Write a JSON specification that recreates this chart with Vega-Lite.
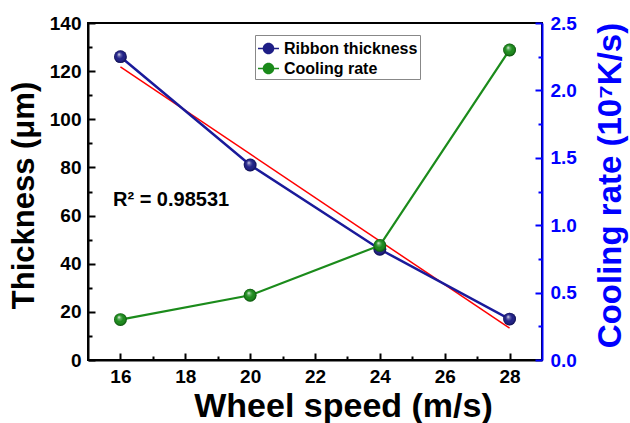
{
  "$schema": "https://vega.github.io/schema/vega-lite/v6.json",
  "width": 454,
  "height": 337,
  "autosize": "none",
  "padding": {"left": 88, "top": 23, "right": 88, "bottom": 63},
  "background": "white",
  "config": {
    "font": "Liberation Sans",
    "view": {"stroke": "black", "strokeWidth": 2},
    "axis": {"grid": false, "labelFont": "Liberation Sans", "titleFont": "Liberation Sans"}
  },
  "datasets": {
    "thick": [
      {"speed": 16, "value": 126, "series": "Ribbon thickness"},
      {"speed": 20, "value": 81, "series": "Ribbon thickness"},
      {"speed": 24, "value": 46, "series": "Ribbon thickness"},
      {"speed": 28, "value": 17, "series": "Ribbon thickness"}
    ],
    "cool": [
      {"speed": 16, "value": 0.3, "series": "Cooling rate"},
      {"speed": 20, "value": 0.48, "series": "Cooling rate"},
      {"speed": 24, "value": 0.85, "series": "Cooling rate"},
      {"speed": 28, "value": 2.3, "series": "Cooling rate"}
    ],
    "fit": [
      {"speed": 16, "value": 121.8},
      {"speed": 28, "value": 13.2}
    ],
    "note": [
      {"speed": 15.77, "value": 66.5, "label": "R² = 0.98531"}
    ]
  },
  "encoding": {
    "x": {
      "field": "speed", "type": "quantitative",
      "scale": {"domain": [15, 29], "nice": false, "zero": false},
      "axis": {
        "values": [16, 17, 18, 19, 20, 21, 22, 23, 24, 25, 26, 27, 28],
        "tickSize": -7,
        "tickDash": {"condition": {"test": "datum.value % 2 === 0", "value": [7, 0]}, "value": [4, 20]},
        "tickWidth": 2, "tickColor": "black",
        "domainColor": "black", "domainWidth": 2,
        "labelExpr": "datum.value % 2 === 0 ? datum.label : ''",
        "labelFontSize": 19, "labelFontWeight": "bold", "labelColor": "black", "labelPadding": 14,
        "title": "Wheel speed (m/s)", "titleFontSize": 34, "titleFontWeight": "bold", "titleColor": "black",
        "titleX": 255, "titleY": 56, "titleAlign": "center", "titleBaseline": "alphabetic"
      }
    }
  },
  "layer": [
    {
      "encoding": {
        "y": {
          "field": "value", "type": "quantitative",
          "scale": {"domain": [0, 140], "nice": false},
          "axis": {
            "values": [0, 10, 20, 30, 40, 50, 60, 70, 80, 90, 100, 110, 120, 130, 140],
            "tickSize": -7,
            "tickDash": {"condition": {"test": "datum.value % 20 === 0", "value": [7, 0]}, "value": [4, 20]},
            "tickWidth": 2, "tickColor": "black",
            "domainColor": "black", "domainWidth": 2,
            "labelExpr": "datum.value % 20 === 0 ? datum.label : ''",
            "labelFontSize": 19, "labelFontWeight": "bold", "labelColor": "black", "labelPadding": 14,
            "title": "Thickness (μm)", "titleFontSize": 31, "titleFontWeight": "bold", "titleColor": "black",
            "titleAngle": 270, "titleX": -55, "titleY": 172, "titleAlign": "center", "titleBaseline": "alphabetic"
          }
        }
      },
      "layer": [
        {"data": {"name": "fit"}, "mark": {"type": "line", "color": "#ff0000", "strokeWidth": 1.5}},
        {"data": {"name": "thick"}, "mark": {"type": "line", "color": "#1a1a9a", "strokeWidth": 2.5}},
        {
          "data": {"name": "thick"},
          "mark": {"type": "point", "filled": true, "size": 165, "opacity": 1},
          "encoding": {
            "color": {
              "field": "series", "type": "nominal",
              "scale": {"domain": ["Ribbon thickness", "Cooling rate"], "range": ["#1e1e86", "#1a8a1a"]},
              "legend": {
                "orient": "none", "legendX": 167, "legendY": 12, "title": null,
                "symbolType": "M-1,-0.08H-0.5V0.08H-1Z M0.5,-0.08H1V0.08H0.5Z M-0.55,0A0.55,0.55,0,1,1,0.55,0A0.55,0.55,0,1,1,-0.55,0Z",
                "symbolSize": 440, "symbolOpacity": 1,
                "labelFontSize": 16, "labelFontWeight": "bold", "labelColor": "black", "labelOffset": 4,
                "fillColor": "white", "strokeColor": "#888888", "padding": 2, "rowPadding": 0
              }
            }
          }
        },
        {
          "data": {"name": "thick"},
          "mark": {
            "type": "point", "filled": true, "size": 165, "opacity": 1,
            "fill": {
              "gradient": "radial", "x1": 0.38, "y1": 0.3, "r1": 0, "x2": 0.5, "y2": 0.5, "r2": 0.5,
              "stops": [
                {"offset": 0, "color": "rgba(255,255,255,0.95)"},
                {"offset": 0.25, "color": "rgba(255,255,255,0.3)"},
                {"offset": 0.55, "color": "rgba(255,255,255,0)"},
                {"offset": 0.85, "color": "rgba(0,0,0,0.15)"},
                {"offset": 1, "color": "rgba(0,0,0,0.45)"}
              ]
            }
          }
        },
        {
          "data": {"name": "note"},
          "mark": {"type": "text", "align": "left", "baseline": "middle", "fontSize": 20, "fontWeight": "bold", "color": "black"},
          "encoding": {"text": {"field": "label"}}
        }
      ]
    },
    {
      "data": {"name": "cool"},
      "encoding": {
        "y": {
          "field": "value", "type": "quantitative",
          "scale": {"domain": [0, 2.5], "nice": false},
          "axis": {
            "orient": "right",
            "values": [0, 0.25, 0.5, 0.75, 1, 1.25, 1.5, 1.75, 2, 2.25, 2.5],
            "tickSize": -7,
            "tickDash": {"condition": {"test": "datum.value % 0.5 === 0", "value": [7, 0]}, "value": [4, 20]},
            "tickWidth": 2, "tickColor": "#0000ff",
            "domainColor": "#0000ff", "domainWidth": 2,
            "labelExpr": "datum.value % 0.5 === 0 ? format(datum.value, '.1f') : ''",
            "labelFontSize": 19, "labelFontWeight": "bold", "labelColor": "#0000ff", "labelPadding": 15,
            "title": "Cooling rate (10⁷K/s)", "titleFontSize": 33, "titleFontWeight": "bold", "titleColor": "#0000ff",
            "titleAngle": 270, "titleX": 78, "titleY": 162, "titleAlign": "center", "titleBaseline": "alphabetic"
          }
        }
      },
      "layer": [
        {"mark": {"type": "line", "color": "#1b8b1b", "strokeWidth": 2.2}},
        {
          "mark": {"type": "point", "filled": true, "size": 165, "opacity": 1},
          "encoding": {
            "color": {
              "field": "series", "type": "nominal",
              "scale": {"domain": ["Ribbon thickness", "Cooling rate"], "range": ["#1e1e86", "#1a8a1a"]}
            }
          }
        },
        {
          "mark": {
            "type": "point", "filled": true, "size": 165, "opacity": 1,
            "fill": {
              "gradient": "radial", "x1": 0.38, "y1": 0.3, "r1": 0, "x2": 0.5, "y2": 0.5, "r2": 0.5,
              "stops": [
                {"offset": 0, "color": "rgba(255,255,255,0.95)"},
                {"offset": 0.25, "color": "rgba(255,255,255,0.3)"},
                {"offset": 0.55, "color": "rgba(255,255,255,0)"},
                {"offset": 0.85, "color": "rgba(0,0,0,0.15)"},
                {"offset": 1, "color": "rgba(0,0,0,0.45)"}
              ]
            }
          }
        }
      ]
    }
  ],
  "resolve": {"scale": {"y": "independent"}}
}
